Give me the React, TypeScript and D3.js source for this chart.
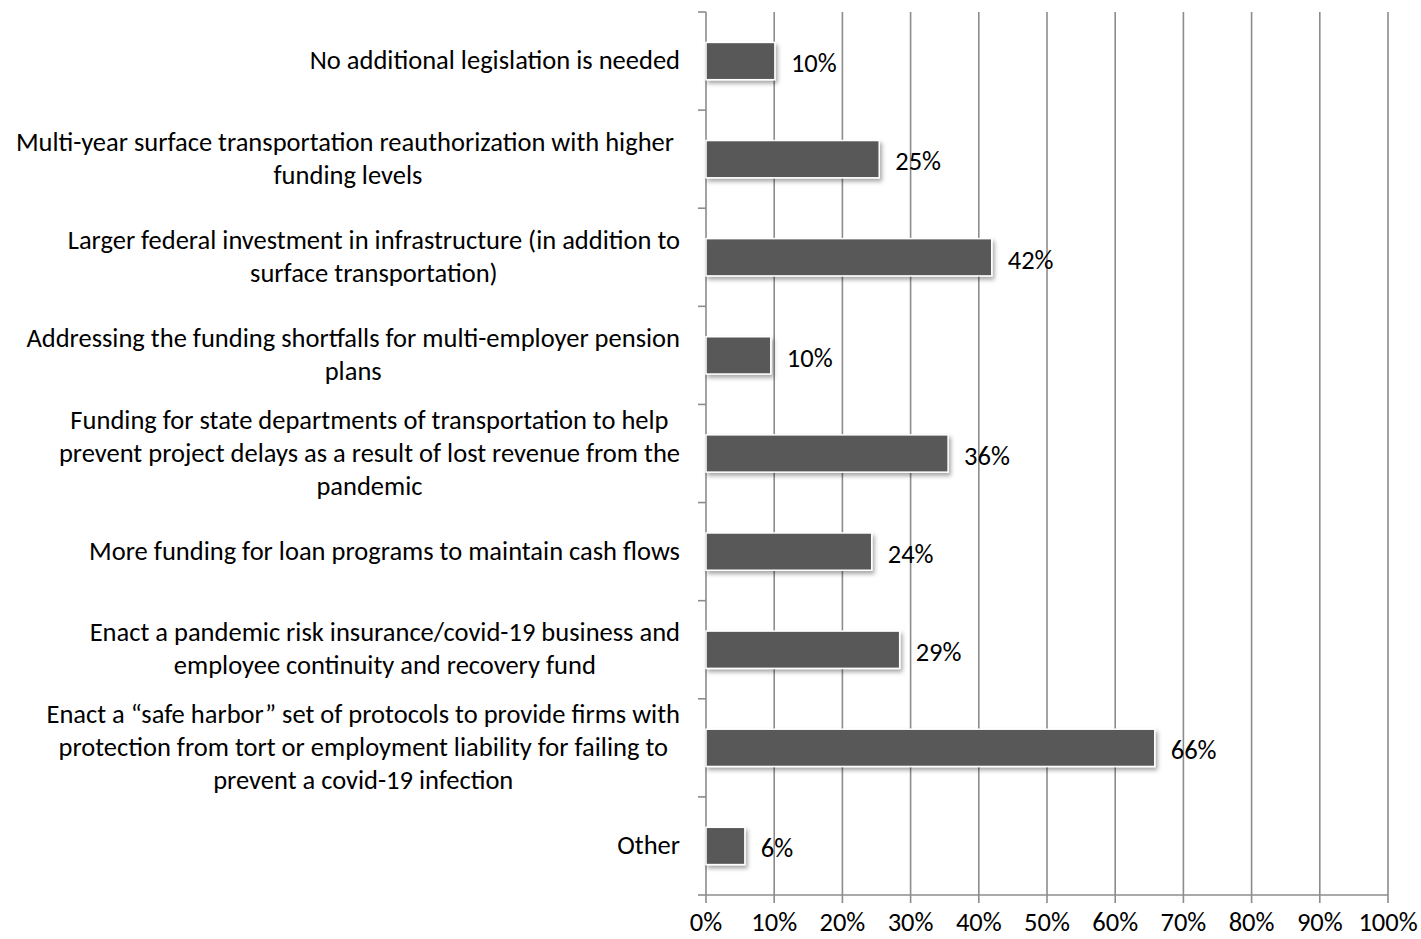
import React from "react";
import * as d3 from "d3";

const categories: string[][] = [
  ["No additional legislation is needed"],
  ["Multi-year surface transportation reauthorization with higher ", "funding levels"],
  ["Larger federal investment in infrastructure (in addition to", "surface transportation)"],
  ["Addressing the funding shortfalls for multi-employer pension", "plans"],
  ["Funding for state departments of transportation to help", "prevent project delays as a result of lost revenue from the", "pandemic"],
  ["More funding for loan programs to maintain cash flows"],
  ["Enact a pandemic risk insurance/covid-19 business and", "employee continuity and recovery fund"],
  ["Enact a \u201csafe harbor\u201d set of protocols to provide firms with", "protection from tort or employment liability for failing to", "prevent a covid-19 infection"],
  ["Other"],
];
const values: number[] = [10.1, 25.4, 41.9, 9.5, 35.5, 24.3, 28.4, 65.8, 5.7];
const valueLabels: string[] = ["10%", "25%", "42%", "10%", "36%", "24%", "29%", "66%", "6%"];
const xTicks: number[] = [0, 10, 20, 30, 40, 50, 60, 70, 80, 90, 100];

const W = 1421;
const H = 939;
const FONT = "Carlito, Calibri, Lato, sans-serif";
const FS = 26.5;

let ctx: CanvasRenderingContext2D | null = null;
function measure(t: string): number {
  if (!ctx) ctx = document.createElement("canvas").getContext("2d");
  if (!ctx) return t.length * 10.6;
  ctx.font = `${FS}px ${FONT}`;
  return ctx.measureText(t).width;
}

export default function App() {
  const left = 706, right = 1388, top = 12, bottom = 895;
  const x = d3.scaleLinear().domain([0, 100]).range([left, right]);
  const idx = categories.map((_, i) => String(i));
  const y = d3.scaleBand().domain(idx).range([top, bottom]).paddingInner(0).paddingOuter(0);
  const bh = y.bandwidth() * 0.38;
  const lineH = 33;
  const axisColor = "#8c8c8c";

  return (
    <svg width={W} height={H} style={{ position: "absolute", left: 0, top: 0, background: "#fff" }} fontFamily={FONT}>
      <defs>
        <filter id="sh" x="-10%" y="-30%" width="130%" height="180%">
          <feDropShadow dx="2" dy="3" stdDeviation="2" floodColor="#000" floodOpacity="0.35" />
        </filter>
      </defs>
      {xTicks.map((t) => (
        <g key={t}>
          {t > 0 && <line x1={x(t)} x2={x(t)} y1={top} y2={bottom} stroke={axisColor} strokeWidth={1.6} />}
          <line x1={x(t)} x2={x(t)} y1={bottom} y2={bottom + 8} stroke={axisColor} strokeWidth={1.6} />
          <text x={x(t)} y={931} textAnchor="middle" fontSize={FS} fill="#000">{t}%</text>
        </g>
      ))}
      <line x1={left} x2={left} y1={top} y2={bottom} stroke={axisColor} strokeWidth={1.6} />
      <line x1={left} x2={right} y1={bottom} y2={bottom} stroke={axisColor} strokeWidth={1.6} />
      {d3.range(categories.length + 1).map((i) => {
        const yy = top + i * y.step();
        return <line key={i} x1={left - 8} x2={left} y1={yy} y2={yy} stroke={axisColor} strokeWidth={1.6} />;
      })}
      {categories.map((lines, i) => {
        const cy = (y(String(i)) as number) + y.bandwidth() / 2;
        const maxW = Math.max(...lines.map(measure));
        const cx = 680 - maxW / 2;
        const y0 = cy - ((lines.length - 1) * lineH) / 2;
        return (
          <g key={i}>
            <rect x={x(0)} y={cy - bh / 2} width={x(values[i]) - x(0)} height={bh} fill="#595959" stroke="#fff" strokeWidth={1.5} filter="url(#sh)" />
            <text x={x(values[i]) + 16} y={cy + 2} dy="0.35em" fontSize={FS} fill="#000">{valueLabels[i]}</text>
            {lines.map((l, j) => (
              <text key={j} x={cx} y={y0 + j * lineH - 1} dy="0.35em" textAnchor="middle" fontSize={FS} fill="#000" style={{ whiteSpace: "pre" }}>{l}</text>
            ))}
          </g>
        );
      })}
    </svg>
  );
}
